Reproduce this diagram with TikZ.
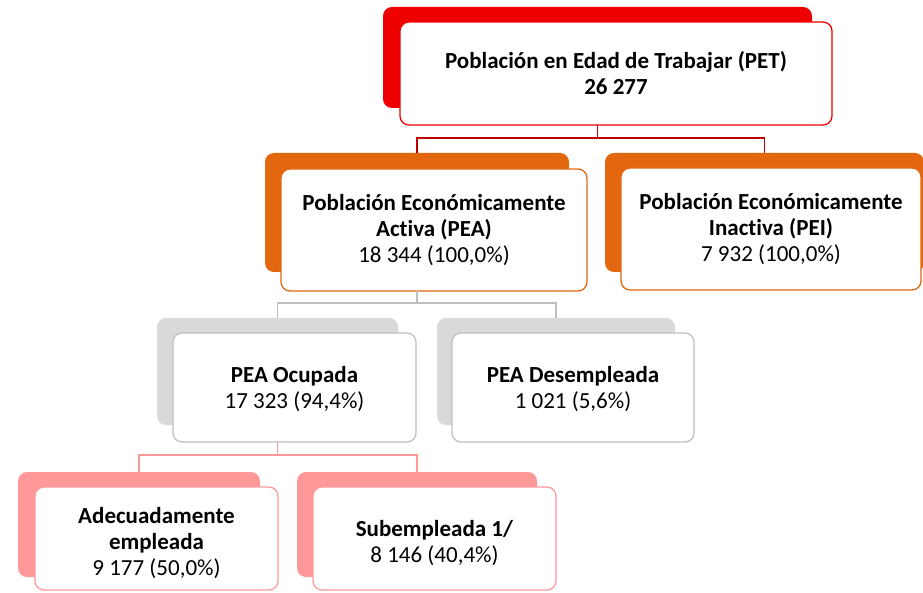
\documentclass[tikz,border=0pt]{standalone}
\usepackage{fontspec}
\setmainfont{Carlito}[RawFeature={-liga}]
\usetikzlibrary{positioning,calc}
\definecolor{petred}{HTML}{EE0000}
\definecolor{petdark}{HTML}{C00000}
\definecolor{peaorange}{HTML}{E2670F}
\definecolor{ocugray}{HTML}{D9D9D9}
\definecolor{oculine}{HTML}{BFBFBF}
\definecolor{subpink}{HTML}{FF9999}

\begin{document}
\begin{tikzpicture}[x=1pt,y=-1pt,
  back/.style={rounded corners=9pt,inner sep=0pt,outer sep=0pt},
  front/.style={draw,fill=white,rounded corners=9pt,inner sep=0pt,outer sep=0pt,
    line width=1.3pt,align=center,font=\fontsize{23}{26}\selectfont},
  link/.style={line width=1.7pt}]
\useasboundingbox (0,0) rectangle (923,593);
\clip (0,0) rectangle (923,593);
% nivel 1
\node[back,fill=petred,minimum width=429pt,minimum height=101pt] (pet) at (597.5,57.5) {};
\node[front,draw=petred,minimum width=432pt,minimum height=103pt] (petf) at (616,73.5)
  {\textbf{Población en Edad de Trabajar (PET)}\\\textbf{26 277}};
% nivel 2
\node[back,fill=peaorange,minimum width=304pt,minimum height=119pt] (pea) at (417,212.5) {};
\node[front,draw=peaorange,minimum width=306pt,minimum height=122pt] (peaf) at (434,230)
  {\textbf{Población Económicamente}\\\textbf{Activa (PEA)}\\18 344 (100,0\%)};
\node[back,fill=peaorange,minimum width=319pt,minimum height=119pt] (pei) at (764.5,212.5) {};
\node[front,draw=peaorange,minimum width=300pt,minimum height=122pt] (peif) at (771,229)
  {\textbf{Población Económicamente}\\\textbf{Inactiva (PEI)}\\7 932 (100,0\%)};
% nivel 3
\node[back,fill=ocugray,minimum width=241pt,minimum height=107pt] (ocu) at (277.5,371.5) {};
\node[front,draw=oculine,minimum width=243pt,minimum height=109pt] (ocuf) at (294.5,387.5)
  {\rule{0pt}{20pt}\textbf{PEA Ocupada}\\17 323 (94,4\%)};
\node[back,fill=ocugray,minimum width=238pt,minimum height=107pt] (des) at (556,371.5) {};
\node[front,draw=oculine,minimum width=242pt,minimum height=109pt] (desf) at (573,387.5)
  {\rule{0pt}{20pt}\textbf{PEA Desempleada}\\1 021 (5,6\%)};
% nivel 4 (el texto va algo mas abajo)
\node[back,fill=subpink,minimum width=242pt,minimum height=105pt] (ade) at (139,524.5) {};
\node[front,draw=subpink,minimum width=243pt,minimum height=103pt] (adef) at (156.5,538.5)
  {\rule{0pt}{26pt}\textbf{Adecuadamente}\\\textbf{empleada}\\9 177 (50,0\%)};
\node[back,fill=subpink,minimum width=240pt,minimum height=105pt] (sub) at (417,524.5) {};
\node[front,draw=subpink,minimum width=243pt,minimum height=103pt] (subf) at (434.5,538.5)
  {\rule{0pt}{26pt}\textbf{Subempleada 1/}\\8 146 (40,4\%)};
% conectores
\draw[link,petdark] (pet |- petf.south) -- ++(0,13) coordinate (petj);
\draw[link,petdark] (petj) -| (pea.north);
\draw[link,petdark] (petj) -| (pei.north);
\draw[link,oculine] (pea |- peaf.south) -- ++(0,12) coordinate (peaj);
\draw[link,oculine] (peaj) -| (ocu.north);
\draw[link,oculine] (peaj) -| (des.north);
\draw[link,subpink] (ocu |- ocuf.south) -- ++(0,13) coordinate (ocuj);
\draw[link,subpink] (ocuj) -| (ade.north);
\draw[link,subpink] (ocuj) -| (sub.north);
\end{tikzpicture}
\end{document}
